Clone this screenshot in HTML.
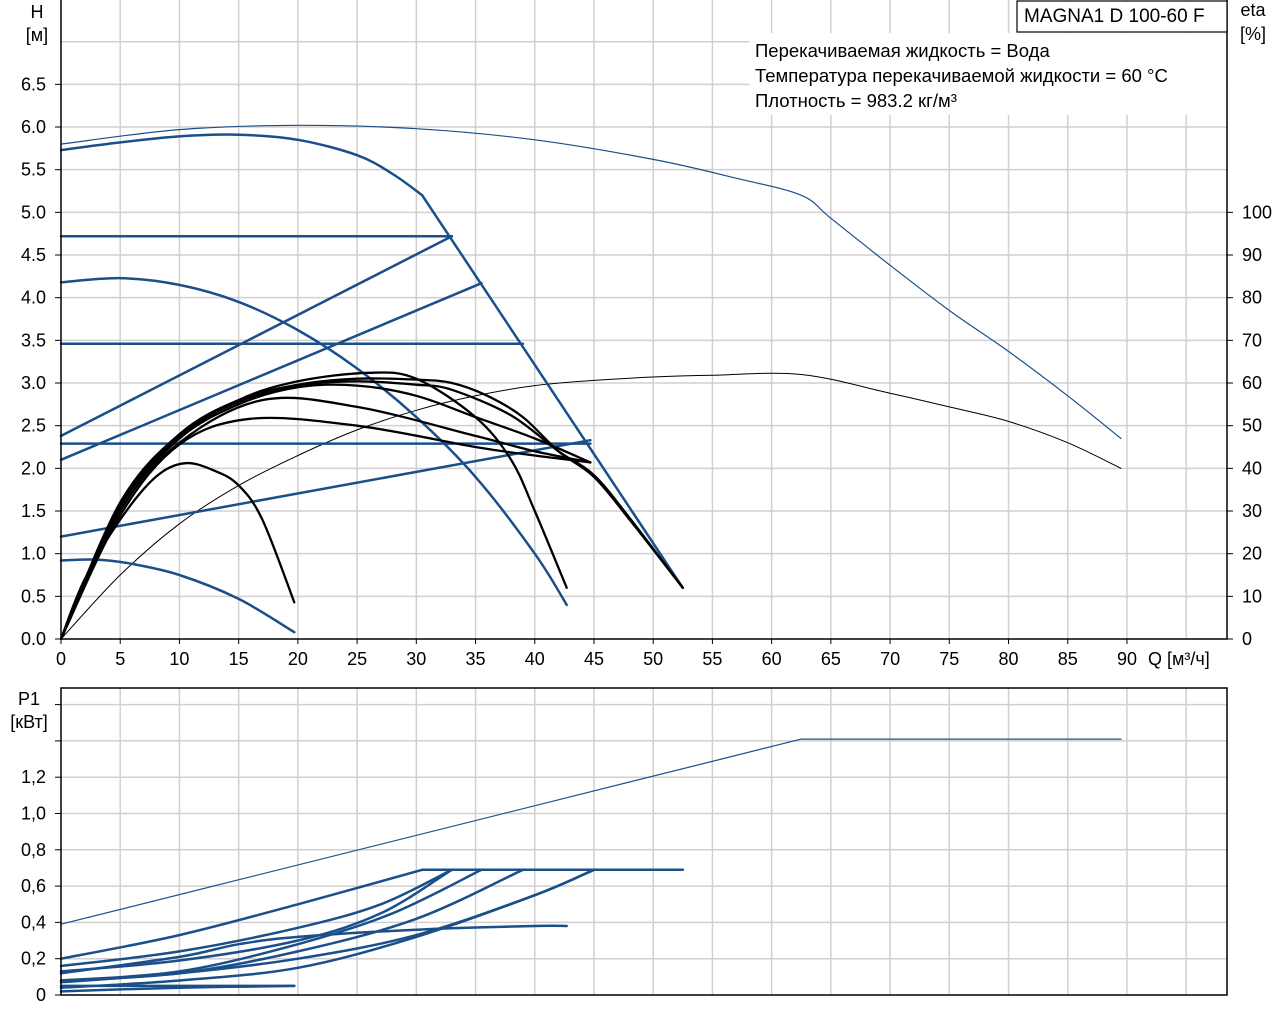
<!DOCTYPE html>
<html><head><meta charset="utf-8"><title>MAGNA1 D 100-60 F</title>
<style>html,body{margin:0;padding:0;background:#fff}svg{display:block;font-family:"Liberation Sans",sans-serif}</style></head>
<body>
<svg id="c" width="1280" height="1024"></svg>
<script>
const qTicks=[0,5,10,15,20,25,30,35,40,45,50,55,60,65,70,75,80,85,90];
const hTicks=[0.0,0.5,1.0,1.5,2.0,2.5,3.0,3.5,4.0,4.5,5.0,5.5,6.0,6.5];
const etaTicks=[0,10,20,30,40,50,60,70,80,90,100];
const pTicks=[0,0.2,0.4,0.6,0.8,1.0,1.2];
const pTickLabels=["0","0,2","0,4","0,6","0,8","1,0","1,2"];
// head curves [q,h]
const hMax=[[0,5.73],[5,5.82],[10,5.89],[15,5.91],[20,5.85],[25,5.67],[28,5.45],[30.5,5.2]];
const hLimit=[[30.5,5.2],[33,4.72],[35.5,4.17],[39,3.47],[41,3.1],[44.7,2.3],[52.5,0.6]];
const hConst1=[[0,4.72],[33,4.72]];
const hConst2=[[0,3.46],[39,3.46]];
const hConst3=[[0,2.29],[44.7,2.29]];
const hProp1=[[0,2.38],[33,4.72]];
const hProp2=[[0,2.1],[35.5,4.17]];
const hProp3=[[0,1.2],[44.7,2.33]];
const hMin=[[0,4.18],[5,4.23],[10,4.15],[15,3.95],[20,3.62],[25,3.17],[30,2.6],[35,1.9],[40,1.0],[42.7,0.4]];
const hSmall=[[0,0.92],[3,0.93],[6,0.88],[10,0.75],[15,0.47],[19.7,0.08]];
const hThin=[[0,5.8],[10,5.97],[20,6.02],[30,5.98],[40,5.85],[50,5.62],[57,5.4],[62.5,5.2],[65,4.93],[70,4.38],[75,3.85],[80,3.37],[85,2.85],[89.5,2.35]];
const bA=[[0,0],[2,0.7],[5,1.4],[8,1.9],[10.5,2.06],[13,1.97],[15,1.8],[17,1.4],[19.7,0.43]];
const bB=[[0,0],[5,1.55],[10,2.35],[15,2.8],[20,3.02],[26,3.12],[30,3.05],[35,2.6],[38,2.1],[40,1.5],[42.7,0.6]];
const bC=[[0,0],[5,1.6],[10,2.4],[15,2.8],[20,2.98],[25,3.05],[30,3.04],[33,3.0],[36,2.85],[39,2.6],[42,2.2],[45,1.9],[48,1.4],[52.5,0.6]];
const bD=[[0,0],[5,1.58],[10,2.38],[15,2.78],[20,2.97],[25,3.02],[30,2.98],[33,2.92],[38,2.62],[42,2.2],[45,1.92],[48,1.42],[52.5,0.6]];
const bE=[[0,0],[5,1.55],[10,2.35],[15,2.75],[20,2.95],[25,2.97],[30,2.85],[35,2.6],[40,2.35],[44.7,2.07]];
const bF=[[0,0],[5,1.5],[10,2.3],[17,2.8],[25,2.72],[35,2.38],[40,2.2],[44.7,2.07]];
const bG=[[0,0],[5,1.45],[10,2.28],[16,2.58],[25,2.5],[35,2.25],[40,2.15],[44.7,2.07]];
const etaQ=[0,5,10,15,20,25,30,35,40,45,50,55,62.5,70,75,80,85,89.5];
const etaV=[0,15,27,36,43,49,53.6,57,59.4,60.6,61.4,61.8,62,57.6,54.4,51,46,40];
// power curves [q,p]
const pThin=[[0,0.39],[62.5,1.41],[89.5,1.41]];
const pFlat=[[30.5,0.69],[52.5,0.69]];
const p1=[[0,0.2],[10,0.33],[20,0.5],[30.5,0.69]];
const p2=[[0,0.16],[10,0.24],[20,0.37],[27,0.5],[33,0.69]];
const p3=[[0,0.13],[10,0.19],[20,0.3],[27,0.45],[33,0.69]];
const p4=[[0,0.12],[10,0.21],[15,0.28],[20,0.32],[30,0.36],[40,0.38],[42.7,0.38]];
const p5=[[0,0.08],[10,0.13],[20,0.28],[28,0.45],[35.5,0.69]];
const p6=[[0,0.08],[10,0.12],[20,0.24],[30,0.42],[39,0.69]];
const p7=[[0,0.07],[10,0.12],[20,0.2],[30,0.33],[40,0.55],[45,0.69]];
const p8=[[0,0.04],[10,0.08],[20,0.15],[30,0.32],[40,0.55],[45,0.69]];
const p9=[[0,0.05],[19.7,0.05]];
const p10=[[0,0.02],[10,0.04],[19.7,0.05]];

const NS="http://www.w3.org/2000/svg",svg=document.getElementById('c');
const L=61,R=1227,T1=0,B1=639,T2=688,B2=995;
const xs=q=>L+q*11.844, yH=h=>B1-h*85.33, yE=e=>B1-e*4.2667, yP=p=>B2-p*181.5;
function el(tag,a,parent){const e=document.createElementNS(NS,tag);for(const k in a)e.setAttribute(k,a[k]);(parent||svg).appendChild(e);return e;}
function txt(x,y,s,anchor,name,size){const t=el('text',{x:x,y:y,'font-size':size||18,'text-anchor':anchor||'start',fill:'#000'});t.textContent=s;

return t;}
function grid(top,bot,ys,name){const g=el('g',{stroke:'#d0d0d0','stroke-width':1.5});


for(let q=5;q<=95;q+=5)el('line',{x1:xs(q),x2:xs(q),y1:top,y2:bot},g);
ys.forEach(y=>el('line',{x1:L,x2:R,y1:y,y2:y},g));}
const hg=[];for(let h=0.5;h<=7.4;h+=0.5)hg.push(yH(h));
grid(T1,B1,hg,'head-grid');
const pg=[];for(let p=0.2;p<=1.65;p+=0.2)pg.push(yP(p));
grid(T2,B2,pg,'power-grid');
function line(pts,fx,fy,color,w,name){const d=pts.map((p,i)=>(i?'L':'M')+fx(p[0]).toFixed(1)+' '+fy(p[1]).toFixed(1)).join(' ');
const sm=smooth(pts.map(p=>[fx(p[0]),fy(p[1])]));
const e=el('path',{d:sm,fill:'none',stroke:color,'stroke-width':w,'stroke-linejoin':'round','stroke-linecap':'round'});

}
function smooth(P){if(P.length<3)return 'M'+P.map(p=>p[0].toFixed(1)+' '+p[1].toFixed(1)).join(' L');
let d='M'+P[0][0].toFixed(1)+' '+P[0][1].toFixed(1);
for(let i=0;i<P.length-1;i++){const p0=P[i-1]||P[i],p1=P[i],p2=P[i+1],p3=P[i+2]||p2;
const c1=[p1[0]+(p2[0]-p0[0])/6,p1[1]+(p2[1]-p0[1])/6],c2=[p2[0]-(p3[0]-p1[0])/6,p2[1]-(p3[1]-p1[1])/6];
d+=' C'+c1.map(v=>v.toFixed(1)).join(' ')+' '+c2.map(v=>v.toFixed(1)).join(' ')+' '+p2[0].toFixed(1)+' '+p2[1].toFixed(1);}return d;}
const BL='#1a4f8a';
// top chart
line(hThin,xs,yH,BL,1.2,'max-thin-head-curve');
line(etaQ.map((q,i)=>[q,etaV[i]]),xs,yE,'#000',1,'efficiency-curve');
[[hMax,'max-head-curve'],[hConst1,'const-pressure-1'],[hConst2,'const-pressure-2'],[hConst3,'const-pressure-3'],[hProp1,'prop-pressure-1'],[hProp2,'prop-pressure-2'],[hProp3,'prop-pressure-3'],[hMin,'min-head-curve'],[hSmall,'small-head-curve']].forEach(a=>line(a[0],xs,yH,BL,2.5,a[1]));
line(hLimit.slice(0,1).concat(hLimit.slice(-1)),xs,yH,BL,2.5,'limit-line');
[[bA,'duty-curve-a'],[bB,'duty-curve-b'],[bC,'duty-curve-c'],[bD,'duty-curve-d'],[bE,'duty-curve-e'],[bF,'duty-curve-f'],[bG,'duty-curve-g']].forEach(a=>line(a[0],xs,yH,'#000',2.3,a[1]));
// bottom chart
line(pThin.slice(0,2),xs,yP,BL,1.2,'max-power-thin');
line(pThin.slice(1),xs,yP,BL,1.2,'max-power-flat');
[[pFlat,'power-limit'],[p1,'power-1'],[p2,'power-2'],[p3,'power-3'],[p4,'power-4'],[p5,'power-5'],[p6,'power-6'],[p7,'power-7'],[p8,'power-8'],[p9,'power-9'],[p10,'power-10']].forEach(a=>line(a[0],xs,yP,BL,2.5,a[1]));
// frames
const fr=el('g',{stroke:'#000','stroke-width':1.5,fill:'none'});


el('path',{d:`M${L} ${T1} V${B1} H${R} V${T1}`},fr);
el('rect',{x:L,y:T2,width:R-L,height:B2-T2},fr);
// ticks & labels
qTicks.forEach(q=>{el('line',{x1:xs(q),x2:xs(q),y1:B1,y2:B1+5,stroke:'#000'});txt(xs(q),665,String(q),'middle','q-tick-label');});
txt(1148,665,'Q [м³/ч]','start','x-axis-title');
hTicks.forEach(h=>{el('line',{x1:L-6,x2:L,y1:yH(h),y2:yH(h),stroke:'#000'});txt(46,yH(h)+6,h.toFixed(1),'end','h-tick-label');});
etaTicks.forEach(e=>{el('line',{x1:R,x2:R+6,y1:yE(e),y2:yE(e),stroke:'#000'});txt(1242,yE(e)+6,String(e),'start','eta-tick-label');});
pTicks.forEach((p,i)=>{el('line',{x1:L-6,x2:L,y1:yP(p),y2:yP(p),stroke:'#000'});txt(46,yP(p)+6,pTickLabels[i],'end','p-tick-label');});
[1.4,1.6].forEach(p=>el('line',{x1:L-6,x2:L,y1:yP(p),y2:yP(p),stroke:'#000'}));
txt(37,18,'H','middle','h-axis-title');txt(37,41,'[м]','middle','h-axis-unit');
txt(1253,16,'eta','middle','eta-axis-title');txt(1253,40,'[%]','middle','eta-axis-unit');
txt(29,705,'P1','middle','p-axis-title');txt(29,728,'[кВт]','middle','p-axis-unit');
// info
el('rect',{x:750,y:33,width:476,height:82,fill:'#fff'});
const lb=el('rect',{x:1017,y:1,width:210,height:31,fill:'#fff',stroke:'#000','stroke-width':1.2});


txt(1024,22,'MAGNA1 D 100-60 F','start','model-label',19);
txt(755,57,'Перекачиваемая жидкость = Вода','start','info-liquid',18.5);
txt(755,82,'Температура перекачиваемой жидкости = 60 °C','start','info-temperature',18.5);
txt(755,107,'Плотность = 983.2 кг/м³','start','info-density',18.5);
</script>
</body></html>
